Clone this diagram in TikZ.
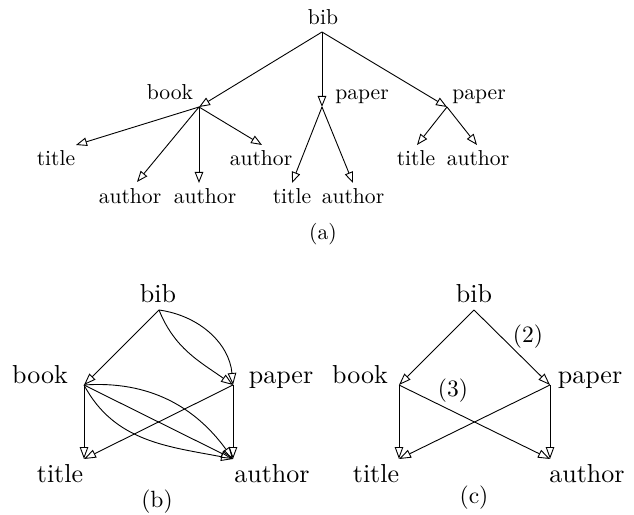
\documentclass[tikz,border=0pt]{standalone}
\usetikzlibrary{arrows.meta}
\begin{document}
\begin{tikzpicture}[x=1pt,y=1pt,
  lbl/.style={anchor=base,inner sep=0pt,scale=2.16},
  lblb/.style={anchor=base,inner sep=0pt,scale=2.6},
  capt/.style={anchor=base,inner sep=0pt,scale=2.35},
  edge/.style={line width=0.9pt,-{Triangle[open,length=11pt,width=8.5pt]}},
  edgeb/.style={line width=0.9pt,-{Triangle[open,length=12pt,width=8.5pt]}}]
\useasboundingbox (0,0) rectangle (634,514);
% ---------- (a) ----------
\coordinate (aBib) at (322,482);
\coordinate (aBook) at (199,407);
\coordinate (aPap1) at (322,407);
\coordinate (aPap2) at (447,407);
\coordinate (aT1) at (76,369);
\coordinate (aA1) at (137,332);
\coordinate (aA2) at (199,331);
\coordinate (aA3) at (262,369);
\coordinate (aT2) at (292,331);
\coordinate (aA4) at (353,331);
\coordinate (aT3) at (417,369);
\coordinate (aA5) at (477,369);
\node[lbl] (laBib) at (323,489) {bib};
\node[lbl] (laBook) at (170,414) {book};
\node[lbl] (laPap1) at (362,414) {paper};
\node[lbl] (laPap2) at (479,414) {paper};
\node[lbl] (laT1) at (56,348) {title};
\node[lbl] (laA1) at (130,310) {author};
\node[lbl] (laA2) at (205,310) {author};
\node[lbl] (laA3) at (261,348) {author};
\node[lbl] (laT2) at (292,310) {title};
\node[lbl] (laA4) at (353,310) {author};
\node[lbl] (laT3) at (416,348) {title};
\node[lbl] (laA5) at (478,348) {author};
\node[lbl] (capA) at (323,274) {(a)};
\draw[edge] (aBib) -- (aBook);
\draw[edge] (aBib) -- (aPap1);
\draw[edge] (aBib) -- (aPap2);
\draw[edge] (aBook) -- (aT1);
\draw[edge] (aBook) -- (aA1);
\draw[edge] (aBook) -- (aA2);
\draw[edge] (aBook) -- (aA3);
\draw[edge] (aPap1) -- (aT2);
\draw[edge] (aPap1) -- (aA4);
\draw[edge] (aPap2) -- (aT3);
\draw[edge] (aPap2) -- (aA5);
% ---------- (b) ----------
\coordinate (bBib) at (159,204);
\coordinate (bBook) at (84,129);
\coordinate (bPap) at (233,129);
\coordinate (bT) at (84,55);
\coordinate (bA) at (233,55);
\node[lblb] (lbBib) at (158,211) {bib};
\node[lblb] (lbBook) at (40,130) {book};
\node[lblb] (lbPap) at (281,130) {paper};
\node[lblb] (lbT) at (60,32) {title};
\node[lblb] (lbA) at (272,32) {author};
\node[capt] (capB) at (157,7) {(b)};
\draw[edgeb] (bBib) -- (bBook);
\draw[edgeb] (bBib) to[out=-68,in=145] (bPap);
\draw[edgeb] (bBib) to[out=-8,in=95] (bPap);
\draw[edgeb] (bBook) -- (bT);
\draw[edgeb] (bBook) -- (bA);
\draw[edgeb] (bBook) to[out=4,in=126] (bA);
\draw[edgeb] (bBook) to[out=-62,in=169] (bA);
\draw[edgeb] (bPap) -- (bT);
\draw[edgeb] (bPap) -- (bA);
% ---------- (c) ----------
\coordinate (cBib) at (474,204);
\coordinate (cBook) at (399,129);
\coordinate (cPap) at (550,129);
\coordinate (cT) at (399,55);
\coordinate (cA) at (550,55);
\node[lblb] (lcBib) at (474,211) {bib};
\node[lblb] (lcBook) at (360,130) {book};
\node[lblb] (lcPap) at (590,130) {paper};
\node[lblb] (lcT) at (376,32) {title};
\node[lblb] (lcA) at (587,32) {author};
\node[capt] (lc2) at (528,171) {(2)};
\node[capt] (lc3) at (453,118) {(3)};
\node[capt] (capC) at (474,11) {(c)};
\draw[edgeb] (cBib) -- (cBook);
\draw[edgeb] (cBib) -- (cPap);
\draw[edgeb] (cBook) -- (cT);
\draw[edgeb] (cBook) -- (cA);
\draw[edgeb] (cPap) -- (cT);
\draw[edgeb] (cPap) -- (cA);
\end{tikzpicture}
\end{document}
